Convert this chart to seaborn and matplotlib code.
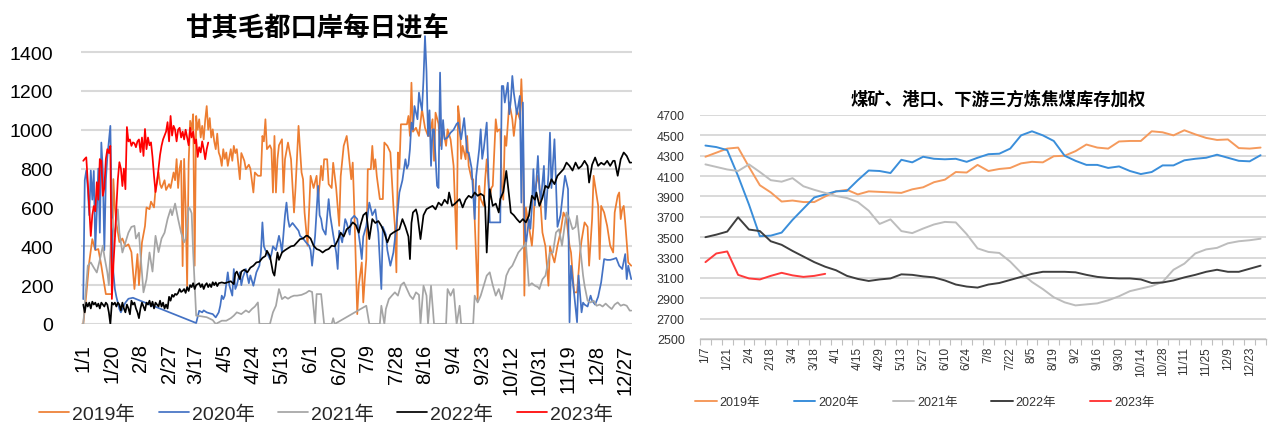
import matplotlib
matplotlib.use("Agg")
import matplotlib.pyplot as plt
import seaborn as sns
import pandas as pd

# ---------------- data: left chart (daily trucks, day-of-year, value) ----------------
years = ["2019年", "2020年", "2021年", "2022年", "2023年"]

trucks_2019 = [(0,0),(2,150),(4,320),(6,437),(8,380),(10,386),(12,300),(13,250),(15,154),(18,154),(19,154),
 (20,746),(21,600),(22,520),(24,422),(26,440),(28,400),(30,410),(32,370),(34,180),(36,360),(37,200),(39,420),
 (41,504),(42,600),(44,591),(45,630),(47,600),(48,694),(50,781),(51,720),(52,700),(54,740),(55,690),(57,720),
 (58,700),(60,780),(61,740),(62,849),(63,700),(64,800),(65,840),(66,298),(67,850),(68,600),(69,195),(70,830),
 (71,1046),(72,1000),(73,1080),(74,300),(75,1071),(76,1000),(77,1054),(78,960),(79,1020),(80,950),(81,1050),
 (82,1122),(83,1000),(84,1060),(85,960),(86,1002),(87,940),(88,900),(89,980),(90,883),(91,860),(92,814),
 (93,900),(94,850),(95,883),(96,814),(98,900),(99,840),(100,917),(101,880),(102,900),(104,745),(105,880),
 (107,840),(108,797),(110,820),(111,800),(113,677),(114,780),(116,763),(118,763),(119,968),(120,940),
 (121,1054),(122,900),(124,920),(125,900),(126,677),(127,968),(128,677),(129,848),(130,920),(132,951),
 (133,677),(134,848),(136,934),(138,848),(140,574),(141,700),(143,1020),(145,780),(146,745),(147,574),
 (149,403),(150,580),(151,763),(153,700),(155,763),(156,640),(157,720),(158,814),(159,740),(160,848),
 (162,848),(163,720),(165,700),(166,830),(168,700),(170,505),(171,760),(173,917),(175,968),(176,900),
 (178,745),(179,831),(180,600),(182,51),(183,200),(185,317),(186,111),(187,231),(188,334),(189,797),
 (191,797),(192,917),(193,797),(194,848),(195,760),(197,643),(199,643),(200,934),(202,917),(204,883),
 (206,608),(207,505),(208,266),(209,883),(210,800),(211,1028),(213,1028),(215,1028),(216,1071),(217,968),
 (218,1242),(219,990),(221,1010),(223,968),(225,1105),(227,1010),(229,968),(230,968),(232,1054),(233,840),
 (234,1088),(236,1030),(237,917),(239,1002),(241,917),(242,1002),(244,950),(246,814),(247,600),(248,386),
 (249,1122),(250,1054),(251,850),(252,917),(254,848),(255,968),(256,814),(258,745),(259,745),(260,540),
 (262,128),(263,711),(264,643),(266,608),(267,750),(268,848),(270,643),(271,700),(272,711),(274,1054),
 (275,990),(276,1000),(277,1002),(278,711),(279,640),(280,968),(281,917),(283,1140),(285,1054),(286,968),
 (288,1105),(290,1054),(291,1260),(292,1054),(293,146),(294,600),(296,505),(298,403),(299,500),(300,690),
 (302,763),(303,711),(305,471),(307,400),(309,197),(310,400),(311,370),(313,317),(315,403),(317,471),
 (319,574),(321,540),(323,403),(324,368),(326,163),(328,163),(330,368),(331,430),(333,523),(335,500),
 (336,300),(338,540),(339,763),(340,711),(342,610),(343,334),(344,608),(346,574),(348,505),(350,403),
 (352,368),(353,574),(355,660),(356,677),(357,540),(358,591),(359,608),(360,523),(362,317),(364,300)]

trucks_2020 = [(0,128),(1,740),(2,790),(3,700),(4,560),(5,790),(6,640),(7,788),(8,385),(9,580),(10,800),
 (11,470),(12,934),(13,790),(14,380),(15,740),(16,860),(17,940),(18,1020),(19,540),(20,265),(21,180),
 (22,140),(24,77),(25,60),(27,95),(28,110),(30,130),(33,135),(75,5),(77,68),(79,60),(80,70),(82,60),
 (84,55),(86,51),(88,34),(90,60),(91,94),(92,146),(93,128),(94,146),(96,266),(97,200),(99,146),(100,283),
 (101,180),(102,200),(104,266),(105,200),(106,240),(108,283),(110,210),(111,250),(113,197),(115,266),
 (117,300),(118,368),(119,523),(120,400),(121,380),(122,368),(124,334),(125,360),(126,400),(128,380),
 (130,454),(131,420),(132,368),(134,560),(135,625),(136,540),(137,500),(139,520),(141,500),(143,480),
 (144,454),(146,440),(148,420),(150,403),(151,380),(152,300),(154,454),(156,711),(157,560),(158,540),
 (159,490),(161,460),(163,643),(164,560),(166,460),(168,368),(169,283),(170,480),(172,420),(174,540),
 (175,520),(177,460),(178,540),(180,557),(182,540),(183,460),(184,403),(185,334),(186,450),(188,505),
 (190,625),(192,560),(194,590),(196,470),(198,180),(199,500),(201,460),(202,380),(204,300),(206,368),
 (208,505),(210,677),(212,740),(214,848),(215,800),(216,820),(217,900),(218,1037),(219,1000),(220,1122),
 (222,1054),(223,1191),(224,1140),(225,1100),(226,1260),(227,1482),(228,1300),(229,968),(230,1100),
 (231,814),(232,1000),(233,1002),(234,860),(235,711),(236,700),(237,1294),(238,900),(239,1050),(240,951),
 (242,960),(244,985),(246,1000),(248,1030),(249,1037),(251,951),(253,1060),(255,883),(256,883),(258,800),
 (260,540),(261,760),(263,900),(264,1002),(265,850),(266,900),(268,1037),(269,800),(270,523),(272,523),
 (274,523),(277,523),(278,1225),(279,1225),(280,1140),(282,1242),(283,1080),(284,1150),(285,1277),
 (286,1190),(288,1080),(290,1174),(291,625),(292,1140),(293,540),(294,403),(296,540),(297,490),(298,600),
 (299,797),(300,610),(302,865),(303,700),(304,640),(306,814),(307,540),(309,770),(310,985),(311,700),
 (313,951),(315,500),(317,560),(319,700),(320,763),(322,694),(323,9),(324,300),(326,160),(328,9),(329,250),
 (331,60),(332,110),(333,100),(335,90),(337,146),(338,120),(340,100),(342,140),(344,214),(346,334),
 (348,330),(350,330),(352,334),(354,340),(356,300),(358,283),(360,360),(361,231),(362,300),(364,231)]

trucks_2021 = [(0,0),(2,197),(3,300),(5,317),(7,290),(9,265),(11,330),(13,403),(14,350),(16,265),(17,200),
 (19,540),(21,450),(23,591),(24,470),(26,368),(28,420),(30,470),(32,500),(34,505),(35,440),(37,470),
 (38,360),(40,163),(42,230),(44,368),(46,270),(48,454),(50,370),(52,440),(54,470),(56,540),(58,591),
 (59,560),(61,620),(63,540),(65,470),(67,420),(68,440),(70,600),(71,591),(72,570),(73,368),(74,200),
 (75,43),(78,40),(82,35),(86,20),(88,0),(92,17),(95,17),(98,30),(100,43),(102,60),(105,51),(108,70),
 (110,60),(112,77),(114,90),(116,111),(117,0),(124,0),(126,60),(128,94),(130,180),(132,128),(134,140),
 (136,130),(138,140),(140,146),(142,146),(145,150),(148,160),(150,171),(152,165),(154,0),(155,154),
 (158,154),(160,0),(165,0),(166,30),(167,0),(188,94),(190,0),(197,0),(198,94),(200,0),(201,77),(203,128),
 (205,146),(207,163),(209,146),(211,200),(213,214),(215,180),(217,146),(219,128),(221,163),(223,150),
 (224,0),(226,197),(228,146),(229,0),(231,197),(233,0),(241,0),(242,180),(244,146),(246,180),(248,0),
 (250,94),(251,0),(259,0),(260,146),(262,111),(264,146),(266,197),(268,249),(270,266),(272,200),(274,146),
 (276,180),(278,128),(280,200),(281,249),(283,283),(285,300),(287,334),(289,368),(291,386),(293,403),
 (294,420),(296,197),(298,210),(300,197),(302,190),(303,180),(305,230),(307,249),(309,330),(310,368),
 (312,368),(314,471),(316,488),(318,403),(320,520),(321,574),(323,540),(325,488),(327,500),(328,557),
 (330,400),(332,250),(333,197),(335,120),(337,111),(339,120),(341,94),(343,100),(345,90),(347,105),
 (349,90),(351,77),(353,100),(355,111),(357,94),(359,100),(361,94),(363,69),(364,69)]

trucks_2022 = [(0,100),(1,60),(2,110),(3,90),(4,110),(5,80),(6,115),(7,100),(8,110),(9,90),(10,105),(11,80),
 (12,110),(13,100),(14,90),(15,110),(16,100),(17,60),(18,0),(19,110),(20,100),(21,110),(22,90),(23,110),
 (24,100),(25,70),(26,110),(27,80),(28,60),(29,100),(30,80),(31,50),(32,120),(33,100),(34,110),(35,80),
 (36,60),(37,30),(38,80),(39,110),(40,90),(41,70),(42,110),(43,100),(44,120),(45,90),(46,115),(47,80),
 (48,110),(49,100),(50,90),(51,120),(52,90),(53,110),(54,80),(55,100),(56,80),(57,140),(58,120),(59,150),
 (60,140),(61,155),(62,150),(63,160),(64,180),(65,165),(66,170),(67,180),(68,160),(69,190),(70,170),
 (71,200),(72,190),(73,210),(74,180),(75,200),(77,210),(78,190),(79,205),(80,180),(81,200),(82,210),
 (83,190),(84,205),(85,190),(86,215),(87,200),(88,214),(89,195),(90,210),(92,214),(94,210),(96,215),
 (98,220),(100,205),(101,260),(102,270),(104,231),(105,270),(107,280),(109,266),(111,290),(113,300),
 (115,317),(117,320),(119,340),(121,350),(122,377),(124,350),(126,266),(127,249),(129,368),(130,330),
 (132,368),(134,380),(136,390),(138,400),(140,403),(142,420),(144,437),(146,440),(148,454),(149,454),
 (151,440),(153,403),(155,386),(157,380),(159,368),(161,380),(163,386),(165,403),(167,400),(169,430),
 (171,470),(173,450),(175,488),(177,500),(179,523),(181,510),(183,470),(184,505),(186,560),(188,574),
 (190,437),(192,540),(194,520),(196,530),(198,505),(200,470),(202,420),(204,460),(206,471),(208,480),
 (210,488),(212,540),(214,500),(216,450),(217,334),(218,520),(219,574),(221,590),(222,560),(224,437),
 (226,560),(228,591),(230,600),(232,608),(234,590),(236,625),(238,610),(240,640),(242,620),(243,677),
 (245,608),(247,620),(250,643),(252,600),(254,640),(256,660),(258,650),(260,677),(262,660),(264,670),
 (266,660),(267,600),(268,368),(270,694),(272,608),(274,620),(276,574),(277,643),(279,680),(281,788),
 (283,650),(284,574),(286,560),(288,540),(290,523),(292,540),(294,523),(296,557),(298,660),(300,640),
 (301,677),(303,608),(305,650),(307,711),(309,700),(311,745),(313,720),(315,763),(317,780),(319,797),
 (321,831),(323,814),(325,790),(327,831),(329,800),(331,814),(333,840),(335,814),(336,728),(338,820),
 (340,857),(342,814),(344,830),(346,820),(348,840),(350,814),(352,840),(353,840),(355,763),(357,848),
 (359,883),(361,865),(363,831),(364,831)]

trucks_2023 = [(0,840),(1,850),(2,858),(3,730),(4,592),(5,453),(6,560),(7,607),(8,580),(9,730),(10,640),
 (11,849),(12,840),(13,660),(14,700),(15,849),(16,900),(17,880),(18,917),(19,129),(20,300),(21,437),
 (22,600),(23,746),(24,833),(25,800),(26,710),(27,800),(28,694),(29,1014),(30,940),(31,950),(32,917),
 (33,935),(34,930),(35,910),(36,940),(37,950),(38,885),(39,960),(40,865),(41,1004),(42,900),(43,960),
 (44,920),(45,935),(46,860),(47,762),(48,679),(49,730),(50,800),(51,870),(52,917),(53,950),(54,970),
 (55,990),(56,1039),(57,940),(58,1071),(59,970),(60,1020),(61,1000),(62,940),(63,1000),(64,1010),
 (65,960),(66,990),(67,950),(68,1000),(69,960),(70,920),(71,1010),(72,960),(73,990),(74,930),(75,950),
 (76,860),(77,910),(78,883),(79,940),(80,900),(81,848),(82,900),(83,934)]

day_ticks = [0, 19, 38, 57, 75, 94, 113, 132, 151, 170, 189, 208, 227, 246, 265, 284, 303, 322, 341, 360]
day_labels = ["1/1", "1/20", "2/8", "2/27", "3/17", "4/5", "4/24", "5/13", "6/1", "6/20", "7/9", "7/28",
              "8/16", "9/4", "9/23", "10/12", "10/31", "11/19", "12/8", "12/27"]

# ---------------- data: right chart (weekly weighted coking coal stock) ----------------
stock_2019 = [4290, 4330, 4370, 4380, 4190, 4010, 3940, 3850, 3860, 3845, 3845, 3900, 3950, 3965, 3920, 3950,
              3945, 3940, 3935, 3970, 3990, 4040, 4065, 4140, 4135, 4210, 4150, 4170, 4180, 4225, 4240, 4235,
              4295, 4300, 4345, 4410, 4380, 4370, 4440, 4445, 4445, 4540, 4530, 4500, 4550, 4510, 4475, 4455,
              4460, 4375, 4370, 4380]
stock_2020 = [4400, 4385, 4355, 4100, 3820, 3510, 3515, 3545, 3670, 3780, 3890, 3920, 3950, 3955, 4060, 4155,
              4150, 4130, 4260, 4235, 4290, 4270, 4265, 4270, 4240, 4280, 4315, 4320, 4370, 4500, 4540, 4500,
              4445, 4300, 4250, 4210, 4210, 4180, 4195, 4150, 4120, 4140, 4205, 4205, 4255, 4270, 4280, 4310,
              4280, 4250, 4245, 4305]
stock_2021 = [4215, 4190, 4165, 4150, 4215, 4140, 4060, 4045, 4080, 4000, 3965, 3935, 3905, 3885, 3845, 3760,
              3630, 3675, 3560, 3540, 3585, 3625, 3650, 3645, 3530, 3390, 3355, 3345, 3260, 3150, 3060, 2990,
              2910, 2860, 2830, 2840, 2850, 2880, 2920, 2970, 2995, 3020, 3060, 3180, 3240, 3340, 3380, 3395,
              3440, 3460, 3470, 3485]
stock_2022 = [3500, 3525, 3555, 3695, 3575, 3560, 3460, 3425, 3365, 3310, 3255, 3210, 3175, 3120, 3090, 3070,
              3085, 3095, 3135, 3130, 3115, 3105, 3075, 3035, 3015, 3005, 3035, 3050, 3080, 3110, 3140, 3160,
              3160, 3160, 3155, 3130, 3110, 3100, 3095, 3095, 3085, 3050, 3055, 3075, 3105, 3130, 3160, 3180,
              3160, 3160, 3190, 3220]
stock_2023 = [3255, 3340, 3360, 3130, 3095, 3085, 3120, 3150, 3125, 3110, 3120, 3140]

week_labels = ["1/7", "1/21", "2/4", "2/18", "3/4", "3/18", "4/1", "4/15", "4/29", "5/13", "5/27", "6/10",
               "6/24", "7/8", "7/22", "8/5", "8/19", "9/2", "9/16", "9/30", "10/14", "10/28", "11/11",
               "11/25", "12/9", "12/23"]

left_colors = ["#ED7D31", "#4472C4", "#A5A5A5", "#000000", "#FF0000"]
right_colors = ["#F59A5C", "#3A8EDA", "#BDBDBD", "#3F3F3F", "#FF3B3B"]

# ---------------- build tables ----------------
rows = []
for yr, series in zip(years, [trucks_2019, trucks_2020, trucks_2021, trucks_2022, trucks_2023]):
    for d, v in series:
        rows.append({"day": d, "value": v, "year": yr})
df_left = pd.DataFrame(rows)

rows = []
for yr, series in zip(years, [stock_2019, stock_2020, stock_2021, stock_2022, stock_2023]):
    for i, v in enumerate(series):
        rows.append({"week": i, "value": v, "year": yr})
df_right = pd.DataFrame(rows)

# ---------------- figure ----------------
sns.set_theme(style="white")
plt.rcParams["font.family"] = ["Liberation Sans", "Noto Sans CJK SC"]
cjk = ["Noto Sans CJK SC", "Liberation Sans"]

W, H = 1269, 431
fig = plt.figure(figsize=(W / 100, H / 100), dpi=100)
fig.patch.set_facecolor("white")

ax1 = fig.add_axes([81 / W, 1 - 325 / H, 551 / W, (325 - 33.6) / H])
ax2 = fig.add_axes([700 / W, 1 - 340 / H, 566 / W, 224 / H])

grid_c = "#D9D9D9"

# ----- left chart -----
sns.lineplot(data=df_left, x="day", y="value", hue="year", hue_order=years,
             palette=dict(zip(years, left_colors)), estimator=None, linewidth=1.25,
             ax=ax1, legend=False)
ax1.set_xlim(-1.5, 364.5)
ax1.set_ylim(0, 1500)
ax1.set_yticks(range(0, 1401, 200))
ax1.set_yticklabels([str(v) for v in range(0, 1401, 200)])
ax1.set_xticks(day_ticks)
ax1.set_xticklabels(day_labels, rotation=90)
ax1.tick_params(axis="y", length=0, pad=20, labelsize=14, colors="#000000")
ax1.tick_params(axis="x", length=0, pad=14, labelsize=14.5, colors="#000000")
for lab in ax1.get_xticklabels():
    lab.set_verticalalignment("top")
ax1.grid(axis="y", color=grid_c, linewidth=1.5)
ax1.set_axisbelow(True)
for s in ax1.spines.values():
    s.set_visible(False)
ax1.set_xlabel("")
ax1.set_ylabel("")

fig.text(317 / W, 1 - 29 / H, "甘其毛都口岸每日进车", ha="center", va="center",
         fontsize=19, fontweight="bold", family=cjk, color="#000000")

h1 = ax1.get_lines()[:5]
fig.legend(h1, years, loc="center", bbox_to_anchor=(326 / W, 1 - 415 / H), ncol=5, frameon=False,
           fontsize=14, handlelength=1.55, handletextpad=0.15, columnspacing=1.2, borderpad=0)

# ----- right chart -----
sns.lineplot(data=df_right, x="week", y="value", hue="year", hue_order=years,
             palette=dict(zip(years, right_colors)), estimator=None, linewidth=1.4,
             ax=ax2, legend=False)
ax2.set_xlim(-0.5, 51.5)
ax2.set_ylim(2500, 4700)
ax2.set_yticks(range(2500, 4701, 200))
ax2.set_yticklabels([str(v) for v in range(2500, 4701, 200)])
ax2.set_xticks(list(range(0, 52, 2)))
ax2.set_xticklabels(week_labels, rotation=90)
ax2.set_xticks([i - 0.5 for i in range(53)], minor=True)
ax2.tick_params(axis="x", which="major", length=0, pad=5, labelsize=8.5, colors="#333333")
ax2.tick_params(axis="x", which="minor", length=4, width=0.8, color="#BFBFBF", direction="out", bottom=True)
ax2.tick_params(axis="y", length=0, pad=11, labelsize=9, colors="#333333")
ax2.grid(axis="y", color=grid_c, linewidth=1.4)
ax2.set_axisbelow(True)
for k, s in ax2.spines.items():
    s.set_visible(k == "bottom")
ax2.spines["bottom"].set_color("#BFBFBF")
ax2.spines["bottom"].set_linewidth(1.0)
ax2.set_xlabel("")
ax2.set_ylabel("")

fig.text(998 / W, 1 - 100 / H, "煤矿、港口、下游三方炼焦煤库存加权", ha="center", va="center",
         fontsize=12.5, fontweight="bold", family=cjk, color="#000000")

h2 = ax2.get_lines()[:5]
fig.legend(h2, years, loc="center", bbox_to_anchor=(925 / W, 1 - 403 / H), ncol=5, frameon=False,
           fontsize=9, handlelength=1.7, handletextpad=0.25, columnspacing=2.7, borderpad=0,
           labelcolor="#333333")

fig.savefig("out.png", dpi=100, facecolor="white")
